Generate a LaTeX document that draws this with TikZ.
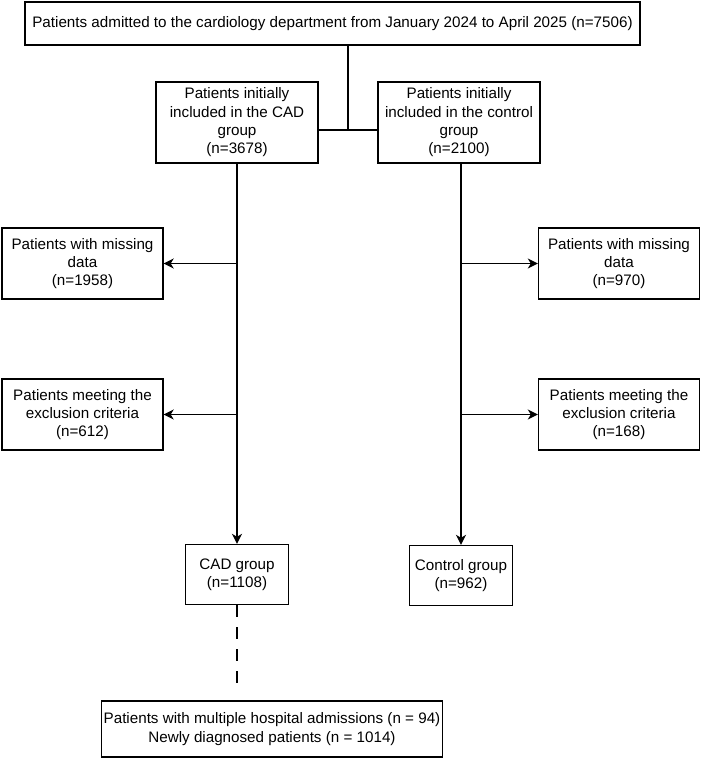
\documentclass[tikz,border=0pt]{standalone}
\usepackage{fontspec}
\setmainfont{Liberation Sans}
\usetikzlibrary{arrows.meta, positioning}
\tikzset{
  every picture/.style={font=\fontsize{15.2}{18.3}\selectfont, line width=1.4pt},
  box/.style={draw, align=center, inner sep=2pt, minimum width=#1},
  box/.default=161pt,
  arrow/.style={-{Stealth[length=10pt, width=10pt, inset=3pt]}, line width=1.4pt},
  link/.style={line width=1.4pt},
}

\begin{document}
\begin{tikzpicture}[x=1pt, y=-1pt,
  g/.style={box=162pt, minimum height=81pt},
  ex/.style={box=161pt, minimum height=71pt},
  fin/.style={box=103pt, minimum height=60pt}]
  \useasboundingbox (0,0) rectangle (702,758);
  \node[box=615pt, minimum height=43pt] (all) at (332.5,23.5) {Patients admitted to the cardiology department from January 2024 to April 2025 (n=7506)};
  \node[g] (cad) at (237,122.5) {Patients initially\\included in the CAD\\group\\(n=3678)};
  \node[g] (ctrl) at (459,122.5) {Patients initially\\included in the control\\group\\(n=2100)};
  \node[ex] (cadmiss) at (82.5,263.5) {Patients with missing\\data\\(n=1958)};
  \node[ex] (cadexcl) at (82.5,414.5) {Patients meeting the\\exclusion criteria\\(n=612)};
  \node[ex] (ctrlmiss) at (619,263.5) {Patients with missing\\data\\(n=970)};
  \node[ex] (ctrlexcl) at (619,414.5) {Patients meeting the\\exclusion criteria\\(n=168)};
  \node[fin] (cadg) at (237,574.5) {CAD group\\(n=1108)};
  \node[fin] (ctrlg) at (461,575.5) {Control group\\(n=962)};
  \node[box=296pt, minimum height=56pt] (sub) at (272,729) {Patients with multiple hospital admissions (n = 94)\\Newly diagnosed patients (n = 1014)};
  % split
  \coordinate (j) at (348,130);
  \draw[link] (all.south -| j) -- (j);
  \draw[link] (cad.east |- j) -- (ctrl.west |- j);
  % cad branch
  \coordinate (cx) at (237,0);
  \draw[arrow] (cad.south -| cx) -- (cadg.north -| cx);
  \draw[arrow] (cadmiss.east -| cx) -- (cadmiss.east);
  \draw[arrow] (cadexcl.east -| cx) -- (cadexcl.east);
  % control branch
  \coordinate (rx) at (461,0);
  \draw[arrow] (ctrl.south -| rx) -- (ctrlg.north -| rx);
  \draw[arrow] (ctrlmiss.west -| rx) -- (ctrlmiss.west);
  \draw[arrow] (ctrlexcl.west -| rx) -- (ctrlexcl.west);
  % subgroups
  \coordinate (d) at (237,686);
  \draw[link, dash pattern=on 12pt off 10pt] (cadg.south -| cx) -- (d);
\end{tikzpicture}
\end{document}
